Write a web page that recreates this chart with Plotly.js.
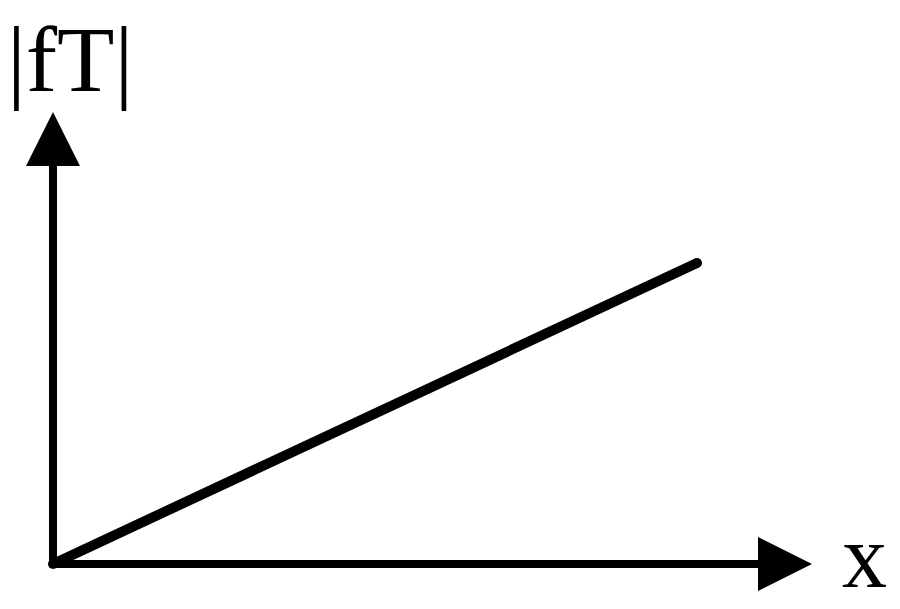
<!DOCTYPE html>
<html>
<head>
<meta charset="utf-8">
<script src="https://cdn.plot.ly/plotly-3.0.1.min.js"></script>
<style>
  html, body { margin: 0; padding: 0; background: #fff; }
  #chart { width: 900px; height: 609px; }
</style>
</head>
<body>
<div id="chart"></div>
<script>
// values, origin at 0,0
var lineX = [0, 644];
var lineY = [0, 301];
var xAxisEnd = [759, 0];
var yAxisEnd = [0, 452];
var yLabel = '|fT|';
var xLabel = 'x';

var lineTrace = {
  x: lineX,
  y: lineY,
  mode: 'lines+markers',
  line: { color: '#000', width: 10 },
  marker: { color: '#000', size: 10 },
  hoverinfo: 'skip'
};

function axisArrow(tip) {
  return {
    x: tip[0], y: tip[1], xref: 'x', yref: 'y',
    ax: 0, ay: 0, axref: 'x', ayref: 'y',
    text: '', showarrow: true,
    arrowhead: 2, arrowsize: 1.35, arrowwidth: 8, arrowcolor: '#000'
  };
}

var layout = {
  width: 900,
  height: 609,
  margin: { l: 0, r: 0, t: 0, b: 0 },
  paper_bgcolor: '#fff',
  plot_bgcolor: '#fff',
  showlegend: false,
  xaxis: { range: [-53, 847], visible: false, fixedrange: true },
  yaxis: { range: [-45, 564], visible: false, fixedrange: true },
  annotations: [
    axisArrow(xAxisEnd),
    axisArrow(yAxisEnd),
    {
      x: 17, y: 505, xref: 'x', yref: 'y',
      text: yLabel, showarrow: false,
      xanchor: 'center', yanchor: 'middle',
      font: { family: 'Liberation Serif, Times New Roman, serif', size: 94, color: '#000' }
    },
    {
      x: 811, y: 8, xref: 'x', yref: 'y',
      text: xLabel, showarrow: false,
      xanchor: 'center', yanchor: 'middle',
      font: { family: 'Liberation Serif, Times New Roman, serif', size: 90, color: '#000' }
    }
  ]
};

Plotly.newPlot('chart', [lineTrace], layout, { staticPlot: true, displayModeBar: false });
</script>
</body>
</html>
